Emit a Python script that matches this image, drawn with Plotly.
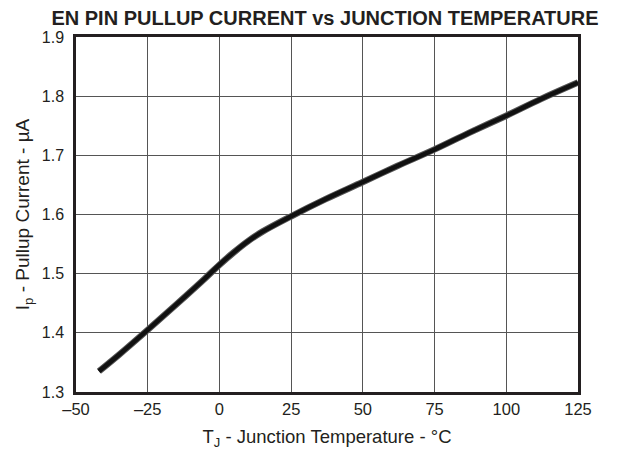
import plotly.graph_objects as go

temp_c = [-42, -35, -25, -15, -5, 0, 5, 10, 15, 25, 37, 50, 62, 75, 87, 100, 112, 125]
current_ua = [1.335, 1.363, 1.405, 1.448, 1.492, 1.515, 1.536, 1.555, 1.571, 1.597, 1.626, 1.655, 1.682, 1.710, 1.738, 1.767, 1.795, 1.823]

x_tickvals = [-50, -25, 0, 25, 50, 75, 100, 125]
x_ticktext = ["\u201350", "\u201325", "0", "25", "50", "75", "100", "125"]
y_tickvals = [1.3, 1.4, 1.5, 1.6, 1.7, 1.8, 1.9]
y_ticktext = ["1.3", "1.4", "1.5", "1.6", "1.7", "1.8", "1.9"]

fig = go.Figure()
fig.add_trace(go.Scatter(x=temp_c, y=current_ua, mode="lines",
                         line=dict(color="#555555", width=6.5, shape="spline"),
                         hoverinfo="skip", showlegend=False))
fig.add_trace(go.Scatter(x=temp_c, y=current_ua, mode="lines",
                         line=dict(color="#111111", width=4.5, shape="spline"),
                         showlegend=False))

font_family = "Liberation Sans, Arial, sans-serif"
fig.update_layout(
    width=624, height=455,
    margin=dict(l=64, r=54, t=29, b=71),
    paper_bgcolor="white", plot_bgcolor="white",
    font=dict(family=font_family, color="#231f20"),
    title=dict(text="<b>EN PIN PULLUP CURRENT vs JUNCTION TEMPERATURE</b>",
               x=0.508, xanchor="center", y=0.993, yanchor="top",
               pad=dict(t=0, b=0),
               font=dict(size=20, family=font_family, color="#231f20")),
    xaxis=dict(range=[-50, 125], tickvals=x_tickvals, ticktext=x_ticktext,
               showgrid=True, gridcolor="#555555", gridwidth=1,
               showline=True, linecolor="#231f20", linewidth=2.5, mirror=True,
               ticks="", tickfont=dict(size=16.5), zeroline=False,
               title=dict(text="T<sub>J</sub> - Junction Temperature - °C",
                          font=dict(size=18.5), standoff=14)),
    yaxis=dict(range=[1.3, 1.9], tickvals=y_tickvals, ticktext=y_ticktext,
               showgrid=True, gridcolor="#555555", gridwidth=1,
               showline=True, linecolor="#231f20", linewidth=2.5, mirror=True,
               ticks="", tickfont=dict(size=16), zeroline=False,
               ticklabelstandoff=6,
               title=dict(text="I<sub>p</sub> - Pullup Current - µA",
                          font=dict(size=19), standoff=8)),
)

fig.write_html("out.html")
